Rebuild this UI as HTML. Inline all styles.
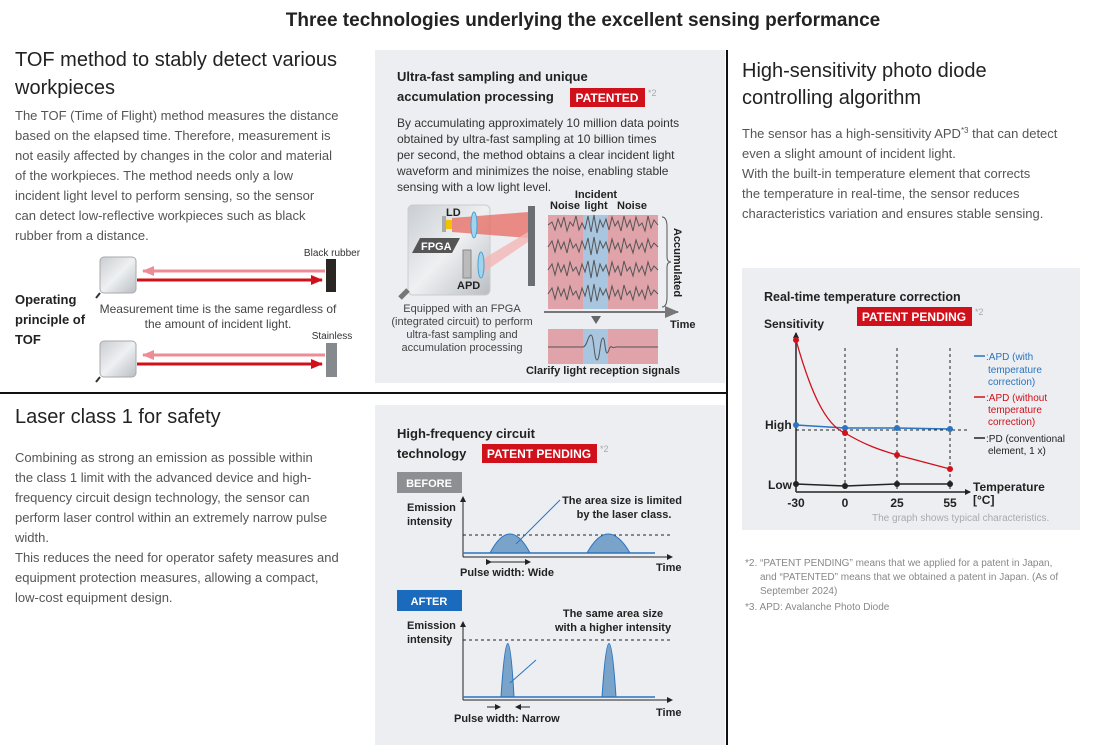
<!DOCTYPE html>
<html><head><meta charset="utf-8"><style>
body{margin:0;background:#fff}
svg{display:block}
text{font-family:"Liberation Sans",Arial,sans-serif}
.p{fill:#555}
.h{fill:#222}
.b{font-weight:bold;fill:#222}
</style></head><body>
<svg width="1100" height="750" viewBox="0 0 1100 750" xmlns="http://www.w3.org/2000/svg">
<defs>
<marker id="ar" markerUnits="userSpaceOnUse" markerWidth="8" markerHeight="8" refX="7" refY="4" orient="auto"><path d="M0,0 L8,4 L0,8z" fill="#222"/></marker>
<marker id="arS" markerUnits="userSpaceOnUse" markerWidth="6" markerHeight="6" refX="5" refY="3" orient="auto"><path d="M0,0 L6,3 L0,6z" fill="#222"/></marker>
<marker id="arG" markerUnits="userSpaceOnUse" markerWidth="14" markerHeight="12" refX="13" refY="6" orient="auto"><path d="M0,0 L14,6 L0,12z" fill="#777"/></marker>
<marker id="arR" markerUnits="userSpaceOnUse" markerWidth="12" markerHeight="12" refX="11" refY="6" orient="auto"><path d="M0,1 L12,6 L0,11z" fill="#d0101a"/></marker>
<marker id="arP" markerUnits="userSpaceOnUse" markerWidth="12" markerHeight="12" refX="11" refY="6" orient="auto"><path d="M0,1 L12,6 L0,11z" fill="#ee8c95"/></marker>
<linearGradient id="sg" x1="0" y1="0" x2="1" y2="1"><stop offset="0" stop-color="#c9cdd2"/><stop offset="0.5" stop-color="#eef0f2"/><stop offset="1" stop-color="#b9bdc2"/></linearGradient>
</defs>
<text x="583" y="26" text-anchor="middle" class="b" font-size="19">Three technologies underlying the excellent sensing performance</text>

<!-- left top -->
<text x="15" y="66" class="h" font-size="20">TOF method to stably detect various</text>
<text x="15" y="94" class="h" font-size="20">workpieces</text>
<g class="p" font-size="13">
<text x="15" y="120">The TOF (Time of Flight) method measures the distance</text>
<text x="15" y="140">based on the elapsed time. Therefore, measurement is</text>
<text x="15" y="160">not easily affected by changes in the color and material</text>
<text x="15" y="180">of the workpieces. The method needs only a low</text>
<text x="15" y="200">incident light level to perform sensing, so the sensor</text>
<text x="15" y="220">can detect low-reflective workpieces such as black</text>
<text x="15" y="240">rubber from a distance.</text>
</g>
<text x="15" y="304" class="b" font-size="13">Operating</text>
<text x="15" y="324" class="b" font-size="13">principle of</text>
<text x="15" y="344" class="b" font-size="13">TOF</text>
<g>
<rect x="100" y="257" width="36" height="36" rx="4" fill="url(#sg)" stroke="#aaa"/>
<line x1="100" y1="293" x2="96" y2="298" stroke="#333" stroke-width="2"/>
<line x1="325" y1="271" x2="143" y2="271" stroke="#ee8c95" stroke-width="3" marker-end="url(#arP)"/>
<line x1="137" y1="280" x2="322" y2="280" stroke="#d0101a" stroke-width="3" marker-end="url(#arR)"/>
<rect x="326" y="259" width="10" height="33" fill="#2a2624"/>
<text x="332" y="256" text-anchor="middle" font-size="10" fill="#333">Black rubber</text>
<text x="218" y="313" text-anchor="middle" font-size="12" fill="#444">Measurement time is the same regardless of</text>
<text x="218" y="328" text-anchor="middle" font-size="12" fill="#444">the amount of incident light.</text>
<rect x="100" y="341" width="36" height="36" rx="4" fill="url(#sg)" stroke="#aaa"/>
<line x1="100" y1="377" x2="96" y2="382" stroke="#333" stroke-width="2"/>
<line x1="325" y1="355" x2="143" y2="355" stroke="#ee8c95" stroke-width="3" marker-end="url(#arP)"/>
<line x1="137" y1="364" x2="322" y2="364" stroke="#d0101a" stroke-width="3" marker-end="url(#arR)"/>
<rect x="326" y="343" width="11" height="34" fill="#868a8e"/>
<text x="332" y="339" text-anchor="middle" font-size="10" fill="#333">Stainless</text>
</g>

<!-- dividers -->
<line x1="0" y1="393" x2="728" y2="393" stroke="#111" stroke-width="2"/>
<line x1="727" y1="50" x2="727" y2="745" stroke="#111" stroke-width="2"/>

<!-- left bottom -->
<text x="15" y="423" class="h" font-size="20">Laser class 1 for safety</text>
<g class="p" font-size="13">
<text x="15" y="462">Combining as strong an emission as possible within</text>
<text x="15" y="482">the class 1 limit with the advanced device and high-</text>
<text x="15" y="502">frequency circuit design technology, the sensor can</text>
<text x="15" y="522">perform laser control within an extremely narrow pulse</text>
<text x="15" y="542">width.</text>
<text x="15" y="562">This reduces the need for operator safety measures and</text>
<text x="15" y="582">equipment protection measures, allowing a compact,</text>
<text x="15" y="602">low-cost equipment design.</text>
</g>

<!-- panel 1 -->
<rect x="375" y="50" width="350" height="333" fill="#eceef1"/>
<text x="397" y="81" class="b" font-size="13">Ultra-fast sampling and unique</text>
<text x="397" y="101" class="b" font-size="13">accumulation processing</text>
<rect x="570" y="88" width="75" height="19" fill="#d0101a"/>
<text x="607" y="102" text-anchor="middle" font-size="12" font-weight="bold" fill="#fff">PATENTED</text>
<text x="648" y="96" font-size="9" fill="#aaa">*2</text>
<g font-size="12" fill="#333">
<text x="397" y="127">By accumulating approximately 10 million data points</text>
<text x="397" y="143">obtained by ultra-fast sampling at 10 billion times</text>
<text x="397" y="159">per second, the method obtains a clear incident light</text>
<text x="397" y="175">waveform and minimizes the noise, enabling stable</text>
<text x="397" y="191">sensing with a low light level.</text>
</g>
<rect x="408" y="205" width="82" height="90" rx="5" fill="url(#sg)" stroke="#ccc"/>
<line x1="408" y1="290" x2="400" y2="298" stroke="#777" stroke-width="5"/>
<polygon points="452,218 528,212 528,238 452,232" fill="#e8685f" opacity="0.75"/>
<polygon points="478,262 528,232 528,242 484,272" fill="#f4b7b7" opacity="0.8"/>
<rect x="445" y="220" width="7" height="9" fill="#f2c200"/>
<rect x="442" y="216" width="4" height="16" fill="#aaa"/>
<ellipse cx="474" cy="225" rx="3" ry="13" fill="#9ed4f0" stroke="#4aa0d0"/>
<ellipse cx="481" cy="265" rx="3" ry="13" fill="#9ed4f0" stroke="#4aa0d0"/>
<rect x="463" y="250" width="8" height="28" fill="#bbb" stroke="#888"/>
<polygon points="420,238 460,238 452,253 412,253" fill="#555"/>
<text x="421" y="250" font-size="11" font-weight="bold" fill="#fff">FPGA</text>
<text x="446" y="216" font-size="11" class="b">LD</text>
<text x="457" y="289" font-size="11" class="b">APD</text>
<rect x="528" y="206" width="7" height="80" fill="#6b6e72"/>
<g font-size="11" text-anchor="middle" fill="#444">
<text x="462" y="312">Equipped with an FPGA</text>
<text x="462" y="325">(integrated circuit) to perform</text>
<text x="462" y="338">ultra-fast sampling and</text>
<text x="462" y="351">accumulation processing</text>
</g>
<rect x="548" y="215" width="110" height="94" fill="#e0a3aa"/>
<rect x="583" y="215" width="25" height="94" fill="#a9c6e0"/>
<g fill="none" stroke="#555" stroke-width="1">
<polyline points="548,225 552,222 555,230 558,219 561,227 564,217 567,231 570,222 573,226 576,216 579,230 582,223 585,229 588,216 591,232 594,215 597,233 600,220 603,227 606,219 609,230 612,217 615,226 618,221 621,231 624,216 627,227 630,220 633,231 636,217 639,226 642,223 645,231 648,216 651,228 654,220 658,225"/>
<polyline points="548,247 552,241 555,252 558,240 561,249 564,242 567,253 570,239 573,248 576,244 579,252 582,241 585,249 588,238 591,255 594,237 597,254 600,241 603,248 606,242 609,252 612,239 615,249 618,243 621,253 624,238 627,248 630,244 633,253 636,240 639,249 642,243 645,252 648,239 651,248 654,243 658,247"/>
<polyline points="548,270 552,264 555,275 558,263 561,272 564,265 567,276 570,262 573,271 576,267 579,275 582,264 585,272 588,261 591,278 594,260 597,277 600,264 603,271 606,265 609,275 612,262 615,272 618,266 621,276 624,261 627,271 630,267 633,276 636,263 639,272 642,266 645,275 648,262 651,271 654,266 658,270"/>
<polyline points="548,294 552,288 555,299 558,287 561,296 564,289 567,300 570,286 573,295 576,291 579,299 582,288 585,296 588,285 591,302 594,284 597,301 600,288 603,295 606,289 609,299 612,286 615,296 618,290 621,300 624,285 627,295 630,291 633,300 636,287 639,296 642,290 645,299 648,286 651,295 654,290 658,294"/>
</g>
<path d="M662,217 q5,0 5,10 v30 q0,5 4,5 q-4,0 -4,5 v30 q0,10 -5,10" fill="none" stroke="#555"/>
<text x="0" y="0" font-size="11" font-weight="bold" fill="#222" transform="translate(674,228) rotate(90)">Accumulated</text>
<text x="565" y="209" text-anchor="middle" font-size="11" class="b">Noise</text>
<text x="596" y="198" text-anchor="middle" font-size="11" class="b">Incident</text>
<text x="596" y="209" text-anchor="middle" font-size="11" class="b">light</text>
<text x="632" y="209" text-anchor="middle" font-size="11" class="b">Noise</text>
<line x1="544" y1="312" x2="678" y2="312" stroke="#777" stroke-width="2" marker-end="url(#arG)"/>
<text x="670" y="328" font-size="11" class="b">Time</text>
<polygon points="591,316 601,316 596,324" fill="#666"/>
<rect x="548" y="329" width="110" height="35" fill="#e0a3aa"/>
<rect x="583" y="329" width="25" height="35" fill="#a9c6e0"/>
<path d="M548,347 L583,347 C587,347 588,335 591,335 C594,335 594,360 597,360 C600,360 600,338 603,338 C605,338 605,353 607,353 C609,353 609,345 612,347 C614,349 615,346 618,347 L658,347" fill="none" stroke="#555"/>
<text x="603" y="374" text-anchor="middle" font-size="11" class="b">Clarify light reception signals</text>

<!-- panel 2 -->
<rect x="375" y="405" width="350" height="340" fill="#eceef1"/>
<text x="397" y="438" class="b" font-size="13">High-frequency circuit</text>
<text x="397" y="458" class="b" font-size="13">technology</text>
<rect x="482" y="444" width="115" height="19" fill="#d0101a"/>
<text x="539" y="458" text-anchor="middle" font-size="12" font-weight="bold" fill="#fff">PATENT PENDING</text>
<text x="600" y="452" font-size="9" fill="#aaa">*2</text>
<rect x="397" y="472" width="65" height="21" fill="#8d8f92"/>
<text x="429" y="487" text-anchor="middle" font-size="11" font-weight="bold" fill="#fff">BEFORE</text>
<text x="407" y="511" font-size="11" class="b">Emission</text>
<text x="407" y="525" font-size="11" class="b">intensity</text>
<line x1="463" y1="557" x2="463" y2="497" stroke="#222" marker-end="url(#arS)"/>
<line x1="463" y1="557" x2="672" y2="557" stroke="#222" marker-end="url(#arS)"/>
<line x1="463" y1="535" x2="672" y2="535" stroke="#222" stroke-dasharray="3,3"/>
<path d="M490,553 Q510,515 530,553Z M587,553 Q608,515 630,553Z" fill="#7aa3c9" stroke="#2a74c0"/>
<line x1="463" y1="553" x2="655" y2="553" stroke="#2a74c0" stroke-width="1.5"/>
<line x1="516" y1="544" x2="560" y2="500" stroke="#2a74c0"/>
<text x="622" y="504" text-anchor="middle" font-size="11" class="b">The area size is limited</text>
<text x="624" y="518" text-anchor="middle" font-size="11" class="b">by the laser class.</text>
<line x1="491" y1="562" x2="530" y2="562" stroke="#222" marker-start="url(#arS)" marker-end="url(#arS)"/>
<text x="460" y="576" font-size="11" class="b">Pulse width: Wide</text>
<text x="656" y="571" font-size="11" class="b">Time</text>
<rect x="397" y="590" width="65" height="21" fill="#1a6bbd"/>
<text x="429" y="605" text-anchor="middle" font-size="11" font-weight="bold" fill="#fff">AFTER</text>
<text x="407" y="629" font-size="11" class="b">Emission</text>
<text x="407" y="643" font-size="11" class="b">intensity</text>
<text x="613" y="617" text-anchor="middle" font-size="11" class="b">The same area size</text>
<text x="613" y="631" text-anchor="middle" font-size="11" class="b">with a higher intensity</text>
<line x1="463" y1="700" x2="463" y2="622" stroke="#222" marker-end="url(#arS)"/>
<line x1="463" y1="700" x2="672" y2="700" stroke="#222" marker-end="url(#arS)"/>
<line x1="463" y1="640" x2="672" y2="640" stroke="#222" stroke-dasharray="3,3"/>
<path d="M501,697 Q508,590 514,697Z M602,697 Q609,590 616,697Z" fill="#7aa3c9" stroke="#2a74c0"/>
<line x1="463" y1="697" x2="655" y2="697" stroke="#2a74c0" stroke-width="1.5"/>
<line x1="510" y1="683" x2="536" y2="660" stroke="#2a74c0"/>
<line x1="487" y1="707" x2="500" y2="707" stroke="#222" marker-end="url(#arS)"/>
<line x1="530" y1="707" x2="516" y2="707" stroke="#222" marker-end="url(#arS)"/>
<text x="454" y="722" font-size="11" class="b">Pulse width: Narrow</text>
<text x="656" y="716" font-size="11" class="b">Time</text>

<!-- right -->
<text x="742" y="77" class="h" font-size="20">High-sensitivity photo diode</text>
<text x="742" y="104" class="h" font-size="20">controlling algorithm</text>
<g class="p" font-size="13">
<text x="742" y="138">The sensor has a high-sensitivity APD<tspan font-size="8" dy="-5">*3</tspan><tspan dy="5"> that can detect</tspan></text>
<text x="742" y="158">even a slight amount of incident light.</text>
<text x="742" y="178">With the built-in temperature element that corrects</text>
<text x="742" y="198">the temperature in real-time, the sensor reduces</text>
<text x="742" y="218">characteristics variation and ensures stable sensing.</text>
</g>
<rect x="742" y="268" width="338" height="262" fill="#eceef1"/>
<text x="764" y="301" font-size="12.5" class="b">Real-time temperature correction</text>
<rect x="857" y="307" width="115" height="19" fill="#d0101a"/>
<text x="914" y="321" text-anchor="middle" font-size="12" font-weight="bold" fill="#fff">PATENT PENDING</text>
<text x="975" y="315" font-size="9" fill="#aaa">*2</text>
<text x="764" y="328" font-size="12" class="b">Sensitivity</text>
<g stroke="#222" stroke-dasharray="3,3">
<line x1="845" y1="348" x2="845" y2="492"/><line x1="897" y1="348" x2="897" y2="492"/><line x1="950" y1="348" x2="950" y2="492"/>
<line x1="796" y1="430" x2="970" y2="430"/>
</g>
<line x1="796" y1="492" x2="796" y2="333" stroke="#222" stroke-width="1.5" marker-end="url(#arS)"/>
<line x1="796" y1="492" x2="970" y2="492" stroke="#222" stroke-width="1.5" marker-end="url(#arS)"/>
<polyline points="796,425 845,428 897,428 950,429" fill="none" stroke="#2a74c0" stroke-width="1.5"/>
<path d="M796,340 C810,390 825,425 845,433 C865,445 880,450 897,455 L950,469" fill="none" stroke="#d0101a" stroke-width="1.3"/>
<polyline points="796,484 845,486 897,484 950,484" fill="none" stroke="#222" stroke-width="1.5"/>
<g fill="#2a74c0"><circle cx="796" cy="425" r="3"/><circle cx="845" cy="428" r="3"/><circle cx="897" cy="428" r="3"/><circle cx="950" cy="429" r="3"/></g>
<g fill="#d0101a"><circle cx="796" cy="340" r="3"/><circle cx="845" cy="433" r="3"/><circle cx="897" cy="455" r="3"/><circle cx="950" cy="469" r="3"/></g>
<g fill="#222"><circle cx="796" cy="484" r="3"/><circle cx="845" cy="486" r="3"/><circle cx="897" cy="484" r="3"/><circle cx="950" cy="484" r="3"/></g>
<text x="765" y="429" font-size="12" class="b">High</text>
<text x="768" y="489" font-size="12" class="b">Low</text>
<g font-size="12" class="b" text-anchor="middle"><text x="796" y="507">-30</text><text x="845" y="507">0</text><text x="897" y="507">25</text><text x="950" y="507">55</text></g>
<text x="973" y="491" font-size="12" class="b">Temperature</text>
<text x="973" y="504" font-size="12" class="b">[°C]</text>
<text x="872" y="521" font-size="10" fill="#aaa">The graph shows typical characteristics.</text>
<g font-size="10">
<line x1="974" y1="356" x2="985" y2="356" stroke="#2a74c0" stroke-width="1.5"/>
<text x="986" y="360" fill="#2a74c0">:APD (with</text><text x="988" y="373" fill="#2a74c0">temperature</text><text x="988" y="385" fill="#2a74c0">correction)</text>
<line x1="974" y1="397" x2="985" y2="397" stroke="#d0101a" stroke-width="1.5"/>
<text x="986" y="401" fill="#d0101a">:APD (without</text><text x="988" y="413" fill="#d0101a">temperature</text><text x="988" y="425" fill="#d0101a">correction)</text>
<line x1="974" y1="438" x2="985" y2="438" stroke="#222" stroke-width="1.5"/>
<text x="986" y="442" fill="#222">:PD (conventional</text><text x="988" y="454" fill="#222">element, 1 x)</text>
</g>
<g font-size="10" fill="#888">
<text x="745" y="566">*2. “PATENT PENDING” means that we applied for a patent in Japan,</text>
<text x="760" y="580">and “PATENTED” means that we obtained a patent in Japan. (As of</text>
<text x="760" y="594">September 2024)</text>
<text x="745" y="610">*3. APD: Avalanche Photo Diode</text>
</g>
</svg>
</body></html>
